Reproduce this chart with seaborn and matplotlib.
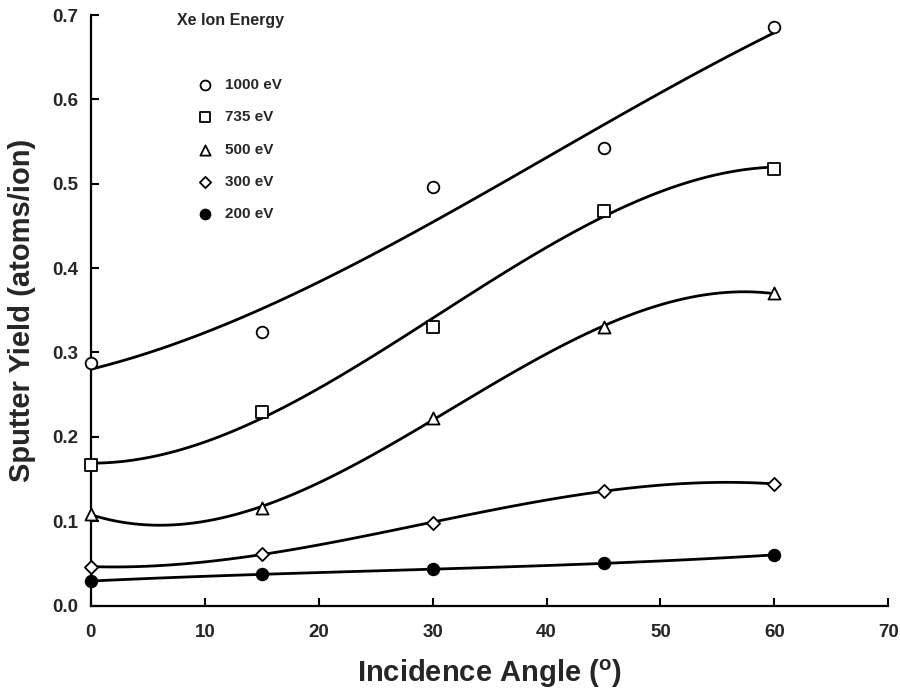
import numpy as np
import pandas as pd
import matplotlib
matplotlib.use("Agg")
import matplotlib.pyplot as plt
from matplotlib.ticker import FormatStrFormatter, MultipleLocator
import seaborn as sns

# --- data ---
angles = [0, 15, 30, 45, 60]
energies = ["1000 eV", "735 eV", "500 eV", "300 eV", "200 eV"]
yield_1000 = [0.287, 0.324, 0.496, 0.542, 0.686]
yield_735 = [0.167, 0.229, 0.330, 0.468, 0.518]
yield_500 = [0.108, 0.116, 0.222, 0.330, 0.370]
yield_300 = [0.046, 0.061, 0.098, 0.136, 0.144]
yield_200 = [0.029, 0.037, 0.043, 0.050, 0.060]

series = [yield_1000, yield_735, yield_500, yield_300, yield_200]

# marker style per series
markers = ["o", "s", "^", "D", "o"]
faces = ["white", "white", "white", "white", "black"]
sizes = [70, 70, 75, 45, 70]

sns.set_theme(style="ticks")
plt.rcParams["font.family"] = ["Liberation Sans", "DejaVu Sans"]

fig = plt.figure(figsize=(9, 6.98), dpi=100)
ax = fig.add_axes([0.101, 0.1325, 0.886, 0.846])

for label, vals, mk, fc, sz in zip(energies, series, markers, faces, sizes):
    df = pd.DataFrame({"angle": angles, "yield": vals})
    sns.regplot(
        data=df, x="angle", y="yield", order=3, ci=None, ax=ax,
        marker=mk, label=label,
        scatter_kws=dict(s=sz, facecolors=fc, edgecolors="black",
                         linewidths=1.3, zorder=4, clip_on=False, alpha=1),
        line_kws=dict(color="black", lw=2.0, zorder=3),
    )

ax.set_xlim(0, 70)
ax.set_ylim(0, 0.7)
ax.xaxis.set_major_locator(MultipleLocator(10))
ax.yaxis.set_major_locator(MultipleLocator(0.1))
ax.yaxis.set_major_formatter(FormatStrFormatter("%.1f"))
ax.tick_params(direction="in", length=6, width=1.5, labelsize=13.5, color="black")
ax.tick_params(axis="x", pad=13)
ax.tick_params(axis="y", pad=9)
for t in ax.get_xticklabels() + ax.get_yticklabels():
    t.set_fontweight("bold")
for side in ["left", "bottom"]:
    ax.spines[side].set_linewidth(1.6)
    ax.spines[side].set_color("black")
sns.despine(ax=ax)

ax.set_xlabel("Incidence Angle ($^\\mathregular{o}$)", fontsize=21, fontweight="bold", labelpad=12)
ax.set_ylabel("Sputter Yield (atoms/ion)", fontsize=21, fontweight="bold", labelpad=12)

ax.text(0.108, 0.99, "Xe Ion Energy", transform=ax.transAxes, fontsize=11.5,
        fontweight="bold", ha="left", va="center")
leg = ax.legend(loc="upper left", bbox_to_anchor=(0.132, 0.893), frameon=False,
                fontsize=11, labelspacing=1.19, handletextpad=0.7, markerscale=0.85,
                handlelength=1.2, borderaxespad=0, borderpad=0)
for t in leg.get_texts():
    t.set_fontweight("bold")

fig.savefig("out.png", dpi=100)
